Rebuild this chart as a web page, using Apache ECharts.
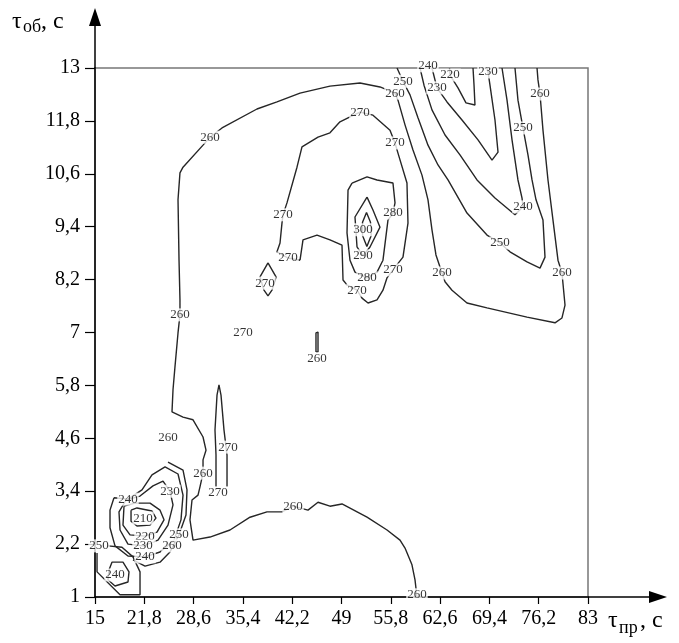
<!DOCTYPE html>
<html><head><meta charset="utf-8">
<script src="https://cdn.jsdelivr.net/npm/echarts@6/dist/echarts.min.js"></script>
<style>html,body{margin:0;padding:0;background:#fff}#c{width:679px;height:643px}</style>
</head><body><div id="c"></div>
<script>
// Tick labels
const xTicks = [15, 21.8, 28.6, 35.4, 42.2, 49, 55.8, 62.6, 69.4, 76.2, 83];
const yTicks = [1, 2.2, 3.4, 4.6, 5.8, 7, 8.2, 9.4, 10.6, 11.8, 13];

// Contour lines [τпр, τоб]
const iso260main = [[59.41,1.00],[59.14,1.39],[58.72,1.73],[57.76,2.11],[57.07,2.29],[55.28,2.52],[52.52,2.81],[49.07,3.11],[47.41,3.06],[45.76,3.15],[44.38,2.97],[42.31,3.06],[40.79,2.93],[38.72,2.93],[36.38,2.81],[33.62,2.52],[30.86,2.36],[28.52,2.29],[28.10,2.75],[28.38,3.20],[29.21,3.31],[29.48,3.50],[29.90,3.81],[29.90,4.11],[30.31,4.33],[29.90,4.63],[28.52,5.02],[27.14,5.08],[25.62,5.20],[25.76,5.70],[26.03,6.22],[26.45,6.99],[26.72,7.40],[26.72,7.74],[26.59,8.64],[26.45,10.01],[26.72,10.62],[27.14,10.75],[29.90,11.25],[30.86,11.43],[32.52,11.64],[37.34,12.07],[40.10,12.23],[43.28,12.43],[47.41,12.59],[51.55,12.66],[54.31,12.57],[56.38,12.43],[56.79,12.27],[57.76,11.71],[58.86,11.14],[60.10,10.57],[60.93,10.01],[61.48,9.33],[62.03,8.76],[62.86,8.35],[63.28,8.15],[64.24,7.96],[66.31,7.67],[69.07,7.56],[74.59,7.35],[78.45,7.22],[79.41,7.33],[79.83,7.62],[79.41,8.35],[78.86,8.64],[78.17,9.55],[77.48,10.46],[76.79,11.59],[76.38,12.41],[76.10,12.73],[75.97,13.00]];
const iso250right = [[56.66,13.00],[57.48,12.70],[58.45,12.39],[59.55,11.87],[60.93,11.25],[62.31,10.80],[63.69,10.46],[66.31,9.71],[69.07,9.21],[70.86,9.03],[72.24,8.83],[74.59,8.60],[76.38,8.46],[77.07,8.71],[76.79,9.55],[75.83,10.01],[75.28,10.46],[74.72,11.03],[74.03,11.64],[73.34,12.27],[72.93,13.00]];
const iso240right = [[59.83,13.00],[60.38,12.61],[61.48,12.05],[63.28,11.48],[65.34,11.03],[67.69,10.46],[70.17,10.05],[72.93,9.67],[74.03,9.85],[73.90,10.05],[73.34,10.46],[72.52,11.37],[71.83,12.27],[71.14,13.00]];
const iso230right = [[61.48,13.00],[62.17,12.55],[63.55,12.23],[65.62,11.82],[67.83,11.37],[69.76,10.91],[70.59,11.09],[70.17,11.82],[69.48,12.61],[69.21,12.91],[69.07,13.00]];
const iso220right = [[63.90,13.00],[63.97,12.84],[65.07,12.55],[66.17,12.21],[67.41,12.16],[67.28,12.61],[67.14,13.00]];
const iso270main = [[43.28,8.64],[43.69,9.10],[45.62,9.21],[47.41,9.10],[49.07,8.98],[49.21,8.19],[49.76,8.08],[51.14,7.96],[51.83,7.78],[52.66,7.67],[53.90,7.74],[54.72,7.96],[55.28,8.24],[56.10,8.42],[57.48,8.71],[58.17,9.48],[58.03,10.39],[56.79,11.07],[56.38,11.30],[55.69,11.59],[53.34,11.93],[51.55,12.00],[49.90,11.87],[48.79,11.78],[47.41,11.53],[45.76,11.43],[43.55,11.21],[42.86,10.75],[41.48,9.94],[40.93,9.67],[40.79,9.48],[40.52,9.03],[40.10,8.83],[41.62,8.69],[43.28,8.64]];
const iso280 = [[50.45,10.39],[52.52,10.53],[53.90,10.46],[56.10,10.39],[56.38,9.94],[56.10,9.71],[55.41,9.55],[54.72,8.64],[53.90,8.37],[52.52,8.24],[50.86,8.37],[50.17,8.64],[49.76,9.26],[49.90,10.23],[50.45,10.39]];
const iso290 = [[52.52,10.07],[53.34,9.78],[54.31,9.39],[52.93,8.94],[51.97,8.74],[51.14,8.94],[50.86,9.62],[52.52,10.07]];
const iso300 = [[52.45,9.72],[53.00,9.50],[53.10,9.20],[52.50,8.95],[51.90,9.20],[51.90,9.50],[52.45,9.72]];
const iso270small = [[38.86,8.58],[39.97,8.26],[39.41,7.96],[38.86,7.83],[38.31,7.96],[37.76,8.26],[38.86,8.58]];
const iso260bar = [[45.48,6.56],[45.48,6.99],[45.76,7.01],[45.76,6.56],[45.48,6.56]];
const iso270spike = [[31.69,3.50],[31.69,4.22],[31.55,4.79],[31.83,5.58],[32.10,5.81],[32.38,5.58],[32.79,4.79],[33.21,4.22],[33.21,3.50]];
const iso210low = [[19.97,2.97],[20.79,3.02],[22.86,2.95],[23.41,2.79],[22.59,2.63],[20.79,2.61],[19.97,2.72],[19.97,2.97]];
const iso220low = [[19.00,3.06],[20.52,3.13],[22.59,3.13],[23.97,2.97],[24.52,2.75],[23.55,2.47],[21.90,2.38],[19.83,2.41],[18.86,2.63],[19.00,3.06]];
const iso230low = [[19.28,3.20],[21.21,3.29],[23.00,3.52],[24.38,3.63],[25.34,3.40],[25.76,3.09],[25.07,2.63],[23.69,2.29],[21.62,2.16],[19.55,2.20],[18.45,2.52],[18.31,2.93],[19.28,3.20]];
const iso240low = [[17.62,3.25],[19.55,3.22],[21.48,3.43],[22.86,3.77],[24.66,3.95],[26.45,3.79],[27.14,3.31],[26.86,2.75],[25.90,2.29],[23.97,2.02],[21.90,1.91],[19.55,1.93],[17.76,2.16],[17.07,2.57],[17.07,2.97],[17.62,3.25]];
const iso250low = [[25.07,4.06],[27.14,3.88],[27.69,3.43],[27.55,2.86],[26.59,2.41],[25.34,2.02],[23.97,1.79],[21.90,1.70],[20.24,1.84]];
const iso250corner = [[15.28,2.00],[15.28,1.57],[18.45,1.05],[21.21,1.05],[21.21,1.57],[20.24,1.91],[18.72,2.13],[16.79,2.16]];
const iso240corner = [[16.93,1.61],[17.34,1.79],[18.86,1.79],[19.69,1.57],[19.55,1.34],[17.76,1.25],[16.79,1.39],[16.93,1.61]];

// Contour labels [τпр, τоб, value]
const contourLabels = [
  [42.31,3.06,'260'],[29.90,3.81,'260'],[26.72,7.40,'260'],[30.86,11.43,'260'],[56.38,12.43,'260'],
  [62.86,8.35,'260'],[79.41,8.35,'260'],[76.38,12.41,'260'],[59.41,1.05,'260'],[45.62,6.40,'260'],[25.07,4.61,'260'],
  [57.48,12.70,'250'],[70.86,9.03,'250'],[74.03,11.64,'250'],
  [60.93,13.05,'240'],[74.03,9.85,'240'],
  [62.17,12.55,'230'],[69.21,12.91,'230'],
  [63.97,12.84,'220'],
  [51.14,7.96,'270'],[56.10,8.42,'270'],[56.38,11.30,'270'],[51.55,12.00,'270'],[40.93,9.67,'270'],
  [41.62,8.69,'270'],[38.45,8.12,'270'],[35.41,6.99,'270'],[33.34,4.40,'270'],[31.97,3.36,'270'],
  [56.10,9.71,'280'],[52.52,8.24,'280'],
  [51.97,8.74,'290'],
  [51.97,9.33,'300'],
  [19.55,3.22,'240'],[21.62,2.79,'210'],[25.34,3.40,'230'],[21.90,2.38,'220'],[26.59,2.41,'250'],
  [21.62,2.16,'230'],[25.62,2.16,'260'],[21.90,1.91,'240'],[15.55,2.16,'250'],[17.76,1.50,'240']
];

const contours = [iso260main, iso250right, iso240right, iso230right, iso220right, iso270main, iso280, iso290, iso300,
  iso270small, iso260bar, iso270spike, iso210low, iso220low, iso230low, iso240low, iso250low, iso250corner, iso240corner];

const FONT = 'Liberation Serif';
const fmt = v => String(v).replace('.', ',');

const chart = echarts.init(document.getElementById('c'), null, {renderer: 'canvas'});
const series = contours.map(d => ({
  type: 'line', data: d, symbol: 'none', showSymbol: false, silent: true, z: 2,
  lineStyle: {color: '#262626', width: 1.4}
}));
series.push({
  type: 'scatter', data: contourLabels, symbolSize: 1, clip: false, silent: true, z: 5,
  itemStyle: {color: 'rgba(0,0,0,0)'},
  label: {show: true, position: 'inside', formatter: p => p.value[2], fontFamily: FONT, fontSize: 13,
    color: '#000', backgroundColor: '#fff', padding: [0, 1]}
});

chart.setOption({
  animation: false,
  backgroundColor: '#fff',
  grid: {left: 95, top: 68, width: 493, height: 529, show: true, borderColor: '#777', borderWidth: 1.5},
  xAxis: {
    type: 'value', min: 15, max: 83,
    axisLine: {show: true, lineStyle: {color: '#000', width: 1.5}},
    axisTick: {show: true, customValues: xTicks, length: 7, lineStyle: {color: '#000', width: 1.2}},
    axisLabel: {customValues: xTicks, formatter: fmt, fontFamily: FONT, fontSize: 20, color: '#000', margin: 12},
    splitLine: {show: false}
  },
  yAxis: {
    type: 'value', min: 1, max: 13,
    axisLine: {show: true, lineStyle: {color: '#000', width: 1.5}},
    axisTick: {show: true, customValues: yTicks, length: 10, lineStyle: {color: '#000', width: 1.2}},
    axisLabel: {customValues: yTicks, formatter: fmt, fontFamily: FONT, fontSize: 20, color: '#000', margin: 15},
    splitLine: {show: false}
  },
  series: series,
  graphic: [
    {type: 'line', shape: {x1: 95, y1: 68, x2: 95, y2: 24}, style: {stroke: '#000', lineWidth: 1.5}},
    {type: 'polygon', shape: {points: [[95, 8], [89, 26], [101, 26]]}, style: {fill: '#000'}},
    {type: 'line', shape: {x1: 588, y1: 597, x2: 652, y2: 597}, style: {stroke: '#000', lineWidth: 1.5}},
    {type: 'polygon', shape: {points: [[667, 597], [649, 591], [649, 603]]}, style: {fill: '#000'}},
    {type: 'text', style: {text: 'τ', x: 12, y: 34, verticalAlign: 'bottom', fontFamily: FONT, fontSize: 24, fill: '#000'}},
    {type: 'text', style: {text: 'об', x: 23, y: 36, verticalAlign: 'bottom', fontFamily: FONT, fontSize: 18, fill: '#000'}},
    {type: 'text', style: {text: ', с', x: 41, y: 34, verticalAlign: 'bottom', fontFamily: FONT, fontSize: 24, fill: '#000'}},
    {type: 'text', style: {text: 'τ', x: 608, y: 633, verticalAlign: 'bottom', fontFamily: FONT, fontSize: 24, fill: '#000'}},
    {type: 'text', style: {text: 'пр', x: 619, y: 637, verticalAlign: 'bottom', fontFamily: FONT, fontSize: 18, fill: '#000'}},
    {type: 'text', style: {text: ', с', x: 640, y: 633, verticalAlign: 'bottom', fontFamily: FONT, fontSize: 24, fill: '#000'}}
  ]
});
</script>
</body></html>
